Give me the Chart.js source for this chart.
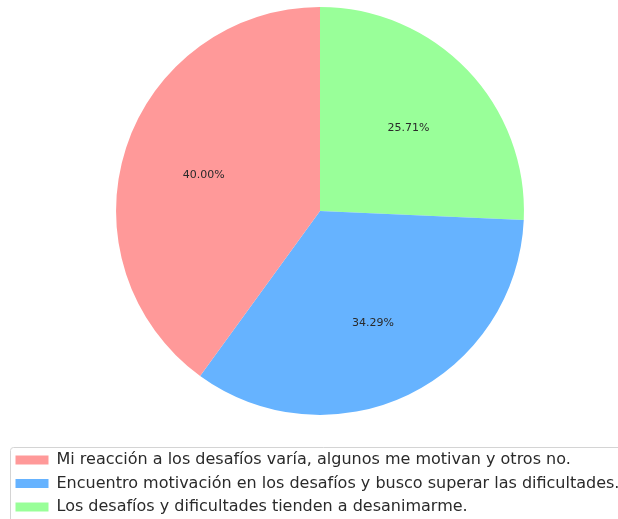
<!DOCTYPE html>
<html>
<head>
<meta charset="utf-8">
<script src="https://cdn.jsdelivr.net/npm/chart.js@4/dist/chart.umd.min.js"></script>
<style>
  html, body { margin: 0; padding: 0; background: #fff; overflow: hidden; }
  #wrap { position: absolute; left: 8px; top: 0; width: 624px; height: 525px; }
</style>
</head>
<body>
<div id="wrap"><canvas id="chart" width="624" height="525"></canvas></div>
<script>
// drawn clockwise from 12 o'clock; legend is shown reversed
const labels = [
  "Los desafíos y dificultades tienden a desanimarme.",
  "Encuentro motivación en los desafíos y busco superar las dificultades.",
  "Mi reacción a los desafíos varía, algunos me motivan y otros no."
];
const counts = [9, 12, 14];
const colors = ["#99ff99", "#66b3ff", "#ff9999"];

const pctLabels = {
  id: "pctLabels",
  afterDatasetsDraw(chart) {
    const ctx = chart.ctx;
    const total = counts.reduce((a, b) => a + b, 0);
    ctx.save();
    ctx.font = "11px 'DejaVu Sans'";
    ctx.fillStyle = "#2a2a2a";
    ctx.textAlign = "center";
    ctx.textBaseline = "middle";
    chart.getDatasetMeta(0).data.forEach((arc, i) => {
      const { x, y, startAngle, endAngle, outerRadius } = arc.getProps(["x", "y", "startAngle", "endAngle", "outerRadius"], true);
      const mid = (startAngle + endAngle) / 2;
      const r = outerRadius * 0.6;
      const txt = (counts[i] / total * 100).toFixed(2) + "%";
      ctx.fillText(txt, x + Math.cos(mid) * r, y + Math.sin(mid) * r + 2);
    });
    ctx.restore();
  }
};

const legendFrame = {
  id: "legendFrame",
  afterDraw(chart) {
    const ctx = chart.ctx;
    ctx.save();
    ctx.strokeStyle = "#d4d4d4";
    ctx.lineWidth = 1;
    ctx.beginPath();
    ctx.roundRect(2.5, 447.5, 660, 90, 3);
    ctx.stroke();
    ctx.restore();
  }
};

new Chart(document.getElementById("chart"), {
  type: "pie",
  data: {
    labels: labels,
    datasets: [{
      data: counts,
      backgroundColor: colors,
      borderWidth: 0
    }]
  },
  options: {
    responsive: false,
    animation: false,
    layout: { padding: { top: 7, bottom: 0 } },
    plugins: {
      tooltip: { enabled: false },
      legend: {
        position: "bottom",
        align: "start",
        reverse: true,
        title: { display: true, text: " ", font: { size: 13 }, padding: 7 },
        labels: {
          boxWidth: 33,
          boxHeight: 9,
          padding: 7.5,
          color: "#2a2a2a",
          font: { family: "'DejaVu Sans'", size: 16 }
        }
      }
    }
  },
  plugins: [pctLabels, legendFrame]
});
</script>
</body>
</html>
